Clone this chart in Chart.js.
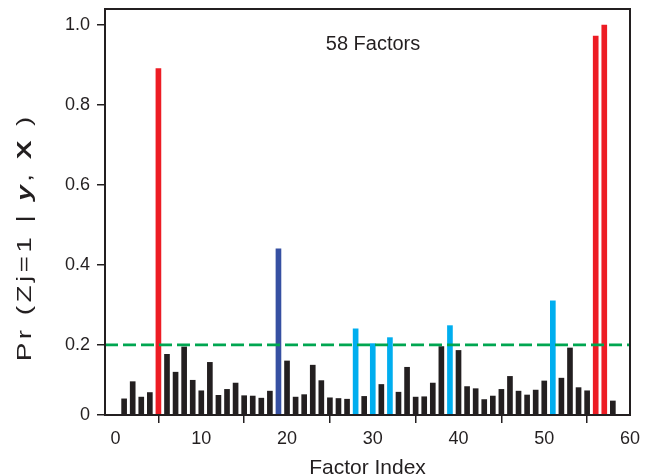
<!DOCTYPE html>
<html>
<head>
    <title>58 Factors</title>
    <style>
        body {
            margin: 0;
            padding: 0;
            background-color: #ffffff;
        }

        #chart-box {
            width: 646px;
            height: 476px;
        }
    </style>
    <script src="https://cdn.jsdelivr.net/npm/chart.js"></script>
</head>
<body>
    <div id="chart-box">
        <canvas id="factor-chart" width="646" height="476"></canvas>
    </div>

<script>
    // Factor indices and posterior inclusion probabilities
    var FACTOR_INDEX = [1, 2, 3, 4, 5, 6, 7, 8, 9, 10,
        11, 12, 13, 14, 15, 16, 17, 18, 19, 20,
        21, 22, 23, 24, 25, 26, 27, 28, 29, 30,
        31, 32, 33, 34, 35, 36, 37, 38, 39, 40,
        41, 42, 43, 44, 45, 46, 47, 48, 49, 50,
        51, 52, 53, 54, 55, 56, 57, 58];
    var PROB = [0.046, 0.095, 0.051, 0.064, 0.891, 0.173, 0.122, 0.194, 0.099, 0.069,
        0.150, 0.056, 0.073, 0.091, 0.055, 0.054, 0.048, 0.068, 0.440, 0.154,
        0.051, 0.058, 0.142, 0.098, 0.049, 0.047, 0.045, 0.240, 0.053, 0.203,
        0.087, 0.218, 0.065, 0.136, 0.051, 0.052, 0.091, 0.195, 0.248, 0.184,
        0.081, 0.075, 0.044, 0.054, 0.073, 0.110, 0.068, 0.057, 0.071, 0.097,
        0.310, 0.105, 0.191, 0.078, 0.069, 0.972, 1.000, 0.040];

    // Highlighted factors
    var RED_FACTORS = [5, 56, 57];
    var DARK_BLUE_FACTORS = [19];
    var LIGHT_BLUE_FACTORS = [28, 30, 32, 39, 51];

    var THRESHOLD = 0.2;

    var X_TICKS = [0, 10, 20, 30, 40, 50, 60];
    var Y_TICKS = [0, 0.2, 0.4, 0.6, 0.8, 1.0];
    var Y_TICK_LABELS = ['0', '0.2', '0.4', '0.6', '0.8', '1.0'];

    var X_MIN = -1.23, X_MAX = 60;
    var Y_MIN = 0, Y_MAX = 1.04;

    var INK = '#231f20';
    var FONT = '"Liberation Sans", Arial, sans-serif';

    function barColor(idx) {
        if (RED_FACTORS.indexOf(idx) >= 0) return '#ed1c24';
        if (DARK_BLUE_FACTORS.indexOf(idx) >= 0) return '#3650a2';
        if (LIGHT_BLUE_FACTORS.indexOf(idx) >= 0) return '#00aeef';
        return INK;
    }

    // The original axis squeezes the 0 - 0.2 band a little; a linear scale
    // with a kink at 0.2 reproduces that.
    var KINK_VALUE = 0.2;
    var KINK_FRAC = 70 / 405;

    class KinkedLinearScale extends Chart.LinearScale {
        toDecimal(v) {
            if (v <= KINK_VALUE) {
                return (v - this.min) / (KINK_VALUE - this.min) * KINK_FRAC;
            }
            return KINK_FRAC + (v - KINK_VALUE) / (this.max - KINK_VALUE) * (1 - KINK_FRAC);
        }
        getPixelForValue(value) {
            if (value === null || value === undefined) return NaN;
            return this.getPixelForDecimal(this.toDecimal(value));
        }
        getValueForPixel(pixel) {
            var d = this.getDecimalForPixel(pixel);
            if (d <= KINK_FRAC) {
                return this.min + d / KINK_FRAC * (KINK_VALUE - this.min);
            }
            return KINK_VALUE + (d - KINK_FRAC) / (1 - KINK_FRAC) * (this.max - KINK_VALUE);
        }
    }
    KinkedLinearScale.id = 'kinkedLinear';
    KinkedLinearScale.defaults = Chart.LinearScale.defaults;
    Chart.register(KinkedLinearScale);

    // Frame round the plot, y title with mixed fonts, and the "58 Factors" note
    var decorations = {
        id: 'decorations',
        afterDraw: function (chart) {
            var ctx = chart.ctx;
            var a = chart.chartArea;
            ctx.save();
            ctx.strokeStyle = INK;
            ctx.lineWidth = 2;
            ctx.strokeRect(a.left, a.top, a.right - a.left, a.bottom - a.top);

            ctx.fillStyle = INK;
            ctx.font = '20px ' + FONT;
            ctx.textAlign = 'center';
            ctx.textBaseline = 'middle';
            ctx.fillText('58 Factors', 373, 44);

            // y title: the original lettering is drawn long and loose
            var stretch = 1.4;
            var spacing = 3.4;
            var runs = [
                { text: 'Pr (Zj=1 | ', font: '20px ' + FONT },
                { text: 'y', font: 'italic bold 20px ' + FONT },
                { text: ', ', font: '20px ' + FONT },
                { text: 'X', font: 'bold 20px ' + FONT },
                { text: ' )', font: '20px ' + FONT }
            ];
            var glyphs = [];
            var total = 0;
            runs.forEach(function (r) {
                ctx.font = r.font;
                for (var k = 0; k < r.text.length; k++) {
                    var w = ctx.measureText(r.text[k]).width * stretch;
                    glyphs.push({ ch: r.text[k], font: r.font, w: w });
                    total += w + spacing;
                }
            });
            total -= spacing;
            ctx.translate(25, 239);
            ctx.rotate(-Math.PI / 2);
            ctx.textAlign = 'left';
            var x = -total / 2;
            glyphs.forEach(function (g) {
                ctx.save();
                ctx.translate(x, 0);
                ctx.scale(stretch, 1);
                ctx.font = g.font;
                ctx.fillText(g.ch, 0, 0);
                ctx.restore();
                x += g.w + spacing;
            });
            ctx.restore();
        }
    };

    var barData = [];
    var colors = [];
    for (var i = 0; i < FACTOR_INDEX.length; i++) {
        barData.push({ x: FACTOR_INDEX[i], y: PROB[i] });
        colors.push(barColor(FACTOR_INDEX[i]));
    }

    var ctx = document.getElementById('factor-chart').getContext('2d');
    var chart = new Chart(ctx, {
        type: 'bar',
        data: {
            datasets: [
                {
                    type: 'line',
                    data: [{ x: X_MIN, y: THRESHOLD }, { x: X_MAX, y: THRESHOLD }],
                    borderColor: '#00a651',
                    borderWidth: 2.6,
                    borderDash: [13, 5],
                    pointRadius: 0,
                    fill: false,
                    order: 0
                },
                {
                    data: barData,
                    backgroundColor: colors,
                    barThickness: 5,
                    order: 1
                }
            ]
        },
        options: {
            responsive: false,
            animation: false,
            layout: {
                padding: { top: 9, right: 16, left: 0, bottom: 0 }
            },
            plugins: {
                legend: { display: false },
                tooltip: { enabled: false }
            },
            scales: {
                x: {
                    type: 'linear',
                    min: X_MIN,
                    max: X_MAX,
                    offset: false,
                    afterFit: function (scale) {
                        scale.height = 61;
                        scale.paddingLeft = 0;
                        scale.paddingRight = 0;
                    },
                    afterBuildTicks: function (scale) {
                        scale.ticks = X_TICKS.map(function (v) { return { value: v }; });
                    },
                    grid: {
                        drawOnChartArea: false,
                        drawTicks: true,
                        tickLength: 8,
                        color: INK,
                        lineWidth: 1.5
                    },
                    border: { display: true, color: INK, width: 2 },
                    ticks: {
                        color: INK,
                        font: { family: FONT, size: 18 },
                        padding: 5,
                        maxRotation: 0,
                        callback: function (v) { return String(v); }
                    },
                    title: {
                        display: true,
                        text: 'Factor Index',
                        color: INK,
                        font: { family: FONT, size: 21, lineHeight: 0.7 },
                        padding: { top: 0, bottom: 0 }
                    }
                },
                y: {
                    type: 'kinkedLinear',
                    min: Y_MIN,
                    max: Y_MAX,
                    afterFit: function (scale) {
                        scale.width = 105;
                        scale.paddingTop = 0;
                        scale.paddingBottom = 0;
                    },
                    afterBuildTicks: function (scale) {
                        scale.ticks = Y_TICKS.map(function (v) { return { value: v }; });
                    },
                    grid: {
                        drawOnChartArea: false,
                        drawTicks: true,
                        tickLength: 8,
                        color: INK,
                        lineWidth: 1.5
                    },
                    border: { display: true, color: INK, width: 2 },
                    ticks: {
                        color: INK,
                        font: { family: FONT, size: 18 },
                        padding: 7,
                        callback: function (v, idx) { return Y_TICK_LABELS[idx]; }
                    }
                }
            }
        },
        plugins: [decorations]
    });
</script>

</body>
</html>
